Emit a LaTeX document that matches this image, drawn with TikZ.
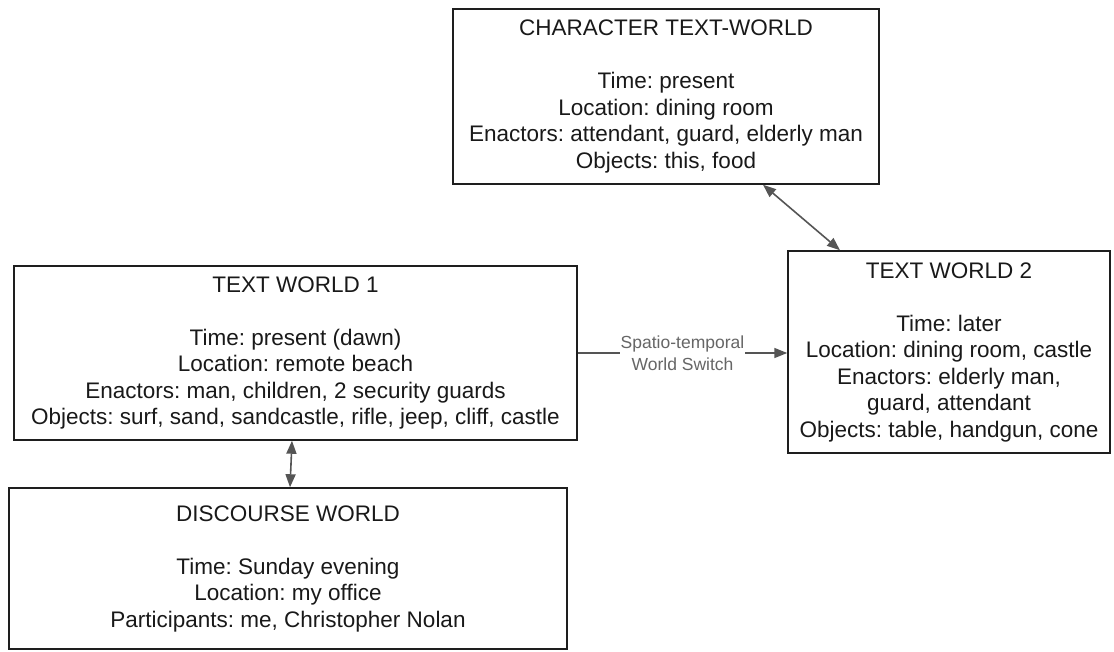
\documentclass[tikz,border=0pt]{standalone}
\usepackage{fontspec}
\setmainfont{Liberation Sans}
\usetikzlibrary{arrows.meta}
\frenchspacing
\definecolor{boxline}{HTML}{1E1E1E}
\definecolor{arrowgray}{HTML}{555555}
\definecolor{labelgray}{HTML}{666666}
\tikzset{
  world/.style={draw=boxline, line width=1.5pt, rectangle, inner sep=0pt, align=center,
    font=\fontsize{22.5}{26.5}\selectfont, text=black!90},
  link/.style={draw=arrowgray, line width=1.6pt, -{Triangle[length=13pt,width=10pt]}},
  dlink/.style={draw=arrowgray, line width=1.6pt, {Triangle[length=13pt,width=10pt]}-{Triangle[length=13pt,width=10pt]}},
  edgelabel/.style={fill=white, inner sep=1pt, align=center, text=labelgray,
    font=\fontsize{17.5}{22.5}\selectfont}
}
\begin{document}
\begin{tikzpicture}[x=1pt,y=-1pt]
\useasboundingbox (0,0) rectangle (1114,651);
\node[world, minimum width=426pt, minimum height=175pt] (char) at (666,96.5)
  {CHARACTER TEXT-WORLD\\[26.5pt]Time: present\\Location: dining room\\Enactors: attendant, guard, elderly man\\Objects: this, food};
\node[world, minimum width=563pt, minimum height=174pt] (tw1) at (295.5,353)
  {TEXT WORLD 1\\[26.5pt]Time: present (dawn)\\Location: remote beach\\Enactors: man, children, 2 security guards\\Objects: surf, sand, sandcastle, rifle, jeep, cliff, castle};
\node[world, minimum width=322pt, minimum height=202pt] (tw2) at (949,352)
  {TEXT WORLD 2\\[26.5pt]Time: later\\Location: dining room, castle\\Enactors: elderly man,\\guard, attendant\\Objects: table, handgun, cone};
\node[world, minimum width=558pt, minimum height=161pt] (disc) at (288,568.5)
  {DISCOURSE WORLD\\[26.5pt]Time: Sunday evening\\Location: my office\\Participants: me, Christopher Nolan};
\draw[dlink] ([xshift=97pt]char.south) -- ([xshift=-109pt]tw2.north);
\draw[link] (tw1.east) -- node[edgelabel] {Spatio-temporal\\World Switch} (tw2.west |- tw1.east);
\draw[dlink] ([xshift=-3.5pt]tw1.south) -- ([xshift=2pt]disc.north);
\end{tikzpicture}
\end{document}
